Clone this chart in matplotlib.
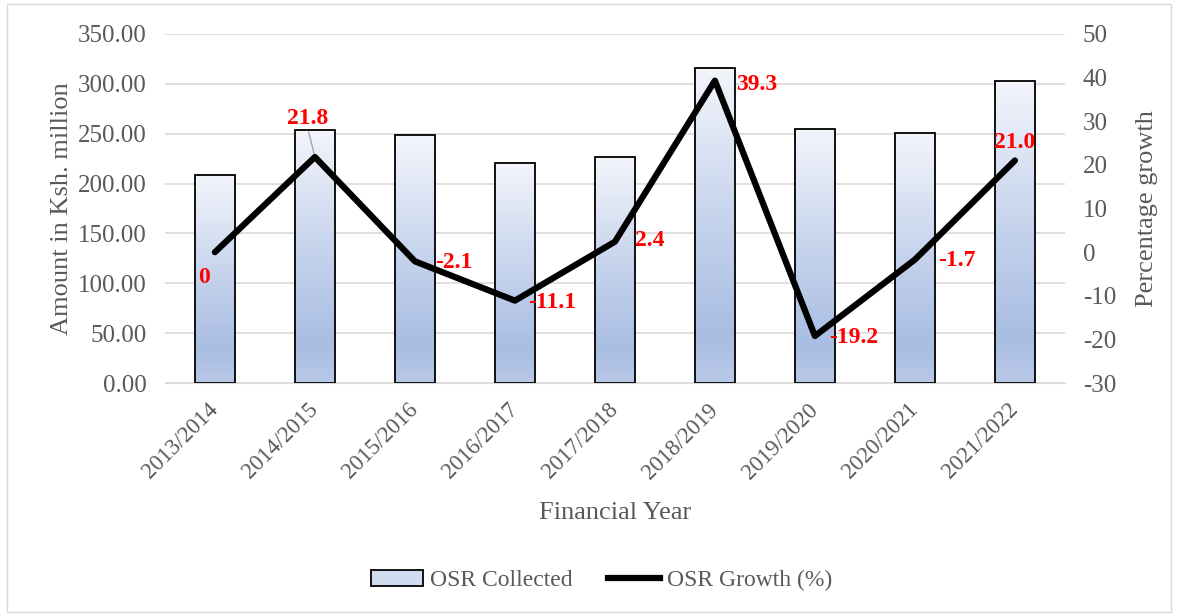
import numpy as np
import matplotlib.pyplot as plt
from matplotlib.colors import LinearSegmentedColormap
from matplotlib.patches import Patch
from matplotlib.lines import Line2D

plt.rcParams['font.family'] = ['Liberation Serif', 'DejaVu Serif']
plt.rcParams['axes.unicode_minus'] = False

years = ['2013/2014', '2014/2015', '2015/2016', '2016/2017', '2017/2018',
         '2018/2019', '2019/2020', '2020/2021', '2021/2022']
osr_collected = [208.6, 254.1, 248.7, 221.1, 226.4, 315.4, 254.8, 250.5, 303.1]
osr_growth = [0, 21.8, -2.1, -11.1, 2.4, 39.3, -19.2, -1.7, 21.0]
growth_labels = ['0', '21.8', '-2.1', '-11.1', '2.4', '39.3', '-19.2', '-1.7', '21.0']
# label offsets in points (dx, dy) relative to each line point
label_offsets = [(-8, -18), (-5, 28), (28, -1), (27, -1), (25, 1), (30, -3), (28, -1), (30, -1), (0, 13)]

grey = '#595959'
fig = plt.figure(figsize=(11.78, 6.16), dpi=100)
ax = fig.add_axes([0.140, 0.378, 0.764, 0.567])
ax2 = ax.twinx()

x = np.arange(len(years))
bars = ax.bar(x, osr_collected, width=0.4, color='none', edgecolor='black', linewidth=1.3, zorder=3)

# gradient fill for bars
cmap = LinearSegmentedColormap.from_list('g', [(0, '#b9c9e8'), (0.15, '#a9bde3'), (0.5, '#c4d2ec'), (1, '#f3f5fb')])
grad = np.linspace(0, 1, 256).reshape(-1, 1)
for b in bars:
    bx, by = b.get_x(), b.get_y()
    w, h = b.get_width(), b.get_height()
    im = ax.imshow(grad, extent=[bx, bx + w, by, by + h], origin='lower', cmap=cmap,
                   aspect='auto', zorder=2)
    im.set_clip_path(b)

ax.set_xlim(-0.5, len(years) - 0.5)
ax.set_ylim(0, 350)
ax.set_yticks(np.arange(0, 351, 50))
ax.set_yticklabels([f'{v:.2f}' for v in np.arange(0, 351, 50)])
ax.grid(axis='y', color='#d9d9d9', linewidth=1.2, zorder=0)
ax.set_axisbelow(True)
ax.set_xticks(x)
ax.set_xticklabels(years, rotation=45, ha='right', va='center', rotation_mode='anchor')
ax.set_ylabel('Amount in Ksh. million', fontsize=19, color=grey, labelpad=4)
ax.set_xlabel('Financial Year', fontsize=19, color=grey, labelpad=14)

ax2.plot(x, osr_growth, color='black', linewidth=4.5, solid_capstyle='round', zorder=5)
ax2.set_ylim(-30, 50)
ax2.set_yticks(np.arange(-30, 51, 10))
ax2.set_ylabel('Percentage growth', fontsize=19, color=grey, labelpad=14)

for a in (ax, ax2):
    for s in a.spines.values():
        s.set_visible(False)
    a.tick_params(length=0, labelsize=18, labelcolor=grey, pad=13)
ax.spines['bottom'].set_visible(True)
ax.spines['bottom'].set_color('#d9d9d9')
ax.tick_params(axis='x', labelsize=16.5, pad=17)

for xi, g, lab, off in zip(x, osr_growth, growth_labels, label_offsets):
    ax2.annotate(lab, (xi, g), xytext=off, textcoords='offset points', ha='center', va='center',
                 color='red', fontsize=17, fontweight='bold', zorder=6)
# leader line for 21.8
ax2.annotate('', (x[1], osr_growth[1]), xytext=(-5, 20), textcoords='offset points',
             arrowprops=dict(arrowstyle='-', color='#a6a6a6', lw=1), zorder=4)

handles = [Patch(facecolor='#d0dcf0', edgecolor='black', linewidth=1.3),
           Line2D([0], [0], color='black', linewidth=4.5)]
fig.legend(handles, ['OSR Collected', 'OSR Growth (%)'], loc='center', bbox_to_anchor=(0.511, 0.058),
           ncol=2, frameon=False, fontsize=17, labelcolor=grey, handlelength=2.2, columnspacing=1.5,
           handletextpad=0.3)

fig.patches.append(plt.Rectangle((0.006, 0.006), 0.988, 0.988, transform=fig.transFigure,
                                 fill=False, edgecolor='#d9d9d9', linewidth=1))
fig.savefig('out.png', dpi=100)
